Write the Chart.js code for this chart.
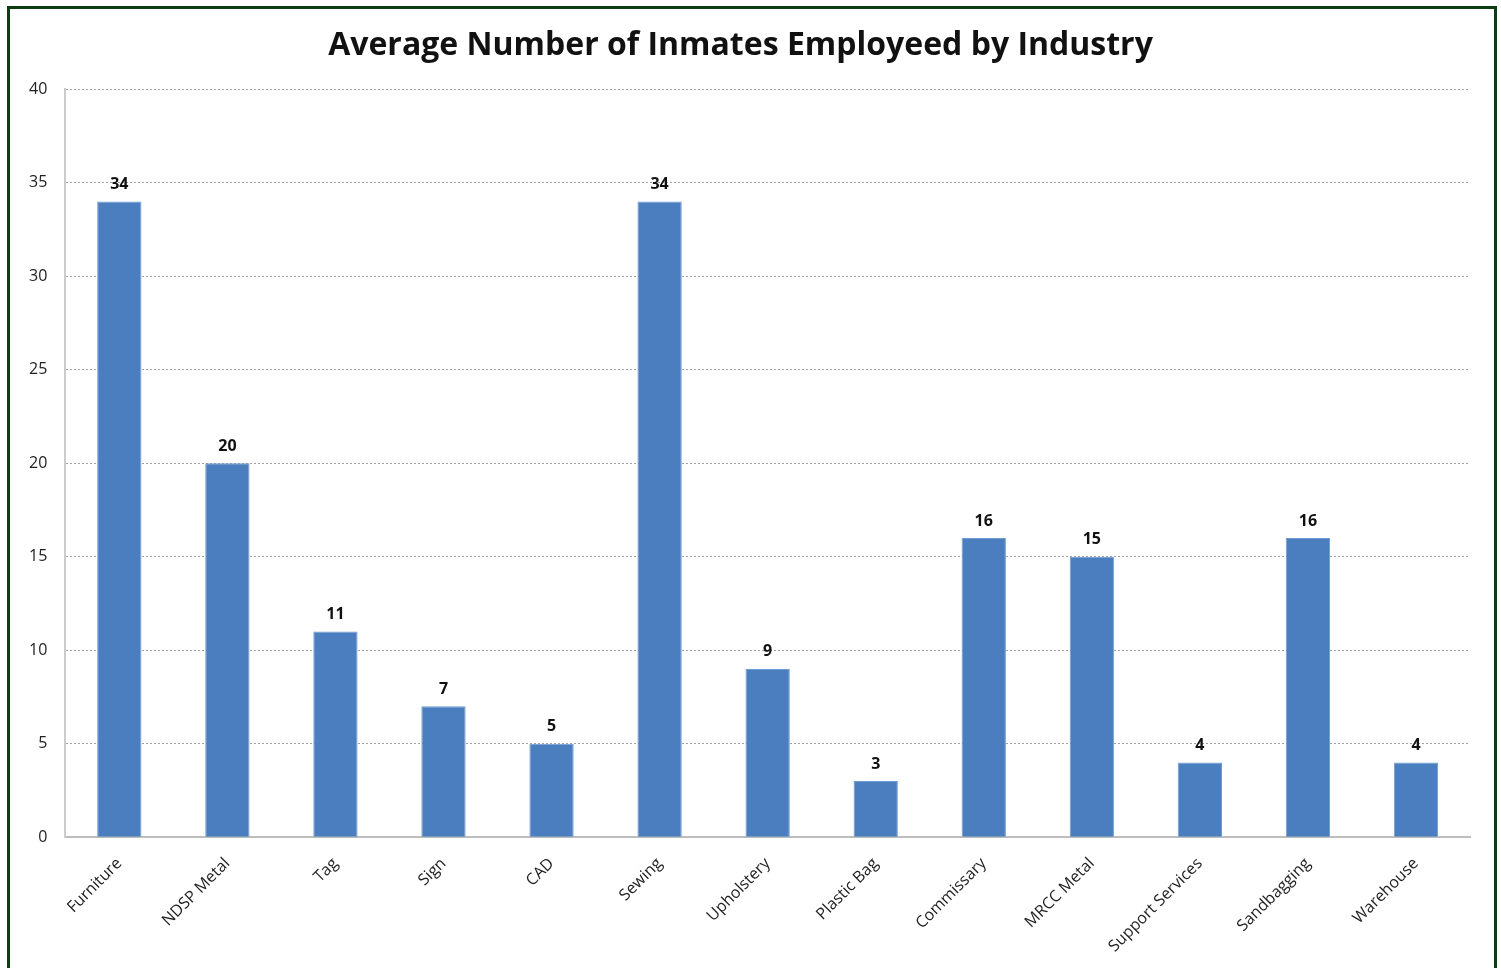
<!DOCTYPE html>
<html>
<head>
<meta charset="utf-8">
<script src="https://cdn.jsdelivr.net/npm/chart.js@4"></script>
<style>
  body { margin: 0; background: #fff; }
  #frame { position: absolute; left: 7px; top: 6px; width: 1484px; height: 1000px; border: 3px solid #0f3d12; }
  #wrap { position: absolute; left: 0; top: 0; width: 1501px; height: 968px; }
</style>
</head>
<body>
<div id="frame"></div>
<div id="wrap"><canvas id="chart"></canvas></div>
<script>
// industries and average inmates employed
const industries = ["Furniture", "NDSP Metal", "Tag", "Sign", "CAD", "Sewing", "Upholstery",
  "Plastic Bag", "Commissary", "MRCC Metal", "Support Services", "Sandbagging", "Warehouse"];
const inmates = [34, 20, 11, 7, 5, 34, 9, 3, 16, 15, 4, 16, 4];
const yTicks = [0, 5, 10, 15, 20, 25, 30, 35, 40];

const fontFamily = "'Open Sans', 'Liberation Sans', sans-serif";

// numbers above the bars
const barLabels = {
  id: "barLabels",
  afterDatasetsDraw(chart) {
    const ctx = chart.ctx;
    const meta = chart.getDatasetMeta(0);
    ctx.save();
    ctx.font = "bold 16px " + fontFamily;
    ctx.fillStyle = "#111";
    ctx.textAlign = "center";
    ctx.textBaseline = "bottom";
    meta.data.forEach((bar, i) => {
      ctx.fillText(inmates[i], bar.x, bar.y - 9);
    });
    ctx.restore();
  }
};

new Chart(document.getElementById("chart"), {
  type: "bar",
  data: {
    labels: industries,
    datasets: [{
      data: inmates,
      backgroundColor: "#4a7ebf",
      borderColor: "#6f9bd3",
      borderWidth: 1,
      categoryPercentage: 1,
      barPercentage: 0.41
    }]
  },
  options: {
    responsive: true,
    maintainAspectRatio: false,
    animation: false,
    layout: { padding: { left: 11, right: 31, top: 10, bottom: 3 } },
    plugins: {
      legend: { display: false },
      tooltip: { enabled: false },
      title: {
        display: true,
        text: "Average Number of Inmates Employeed by Industry",
        color: "#111",
        font: { family: fontFamily, size: 32, weight: "bold" },
        padding: { top: 17, bottom: 24 }
      }
    },
    scales: {
      x: {
        grid: { display: false },
        border: { color: "#bdbdbd", width: 2 },
        ticks: {
          color: "#222",
          font: { family: fontFamily, size: 16 },
          minRotation: 45,
          maxRotation: 45,
          padding: 9
        }
      },
      y: {
        min: 0,
        max: 40,
        afterBuildTicks(axis) { axis.ticks = yTicks.map(v => ({ value: v })); },
        grid: { color: "#a0a0a0", lineWidth: 1, drawTicks: false },
        border: { color: "#cccccc", width: 2, dash: [2, 2] },
        ticks: {
          color: "#222",
          font: { family: fontFamily, size: 16 },
          padding: 18
        }
      }
    }
  },
  plugins: [barLabels]
});
</script>
</body>
</html>
